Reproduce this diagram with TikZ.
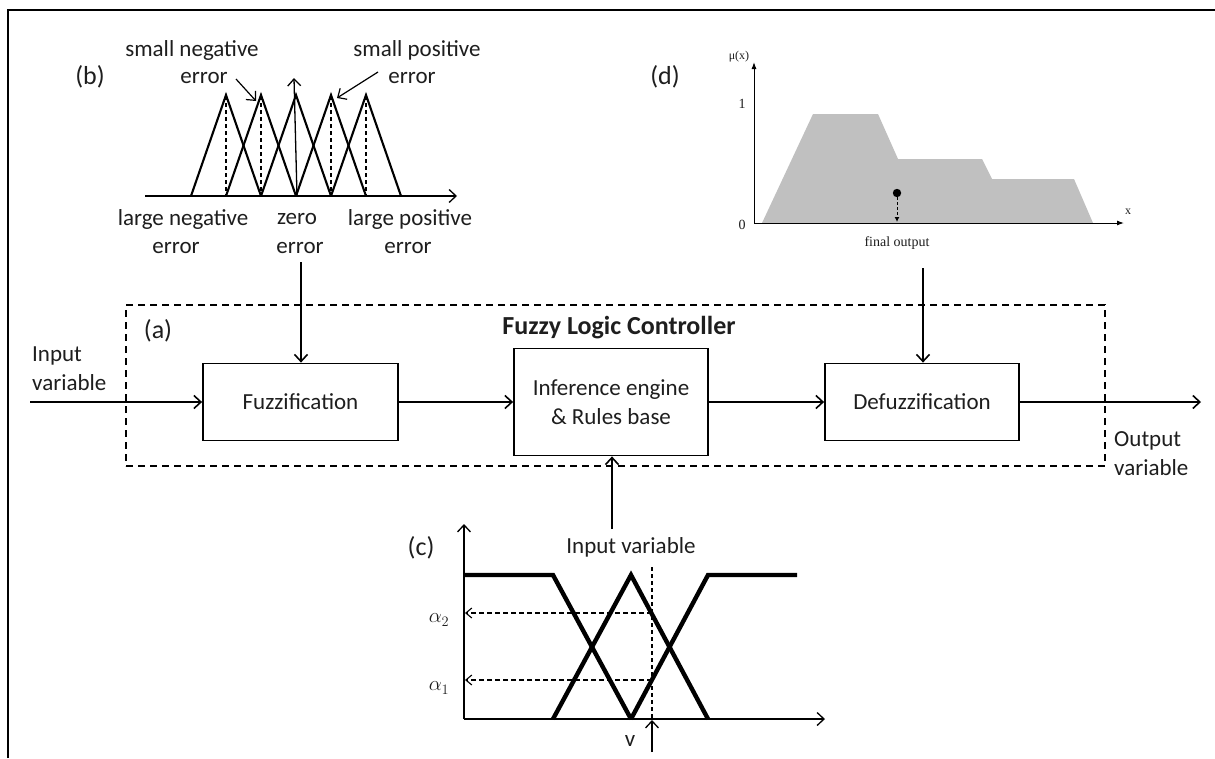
\documentclass[tikz,border=0pt]{standalone}
\usepackage{fontspec}
\setmainfont{Carlito}
\newfontfamily\serifft{Liberation Serif}
\usetikzlibrary{arrows.meta}
\newcommand\myfs{\fontsize{23}{29}\selectfont}
\newcommand\mysfs{\fontsize{14}{16}\selectfont\serifft}
\definecolor{shadegray}{RGB}{192,192,192}
\definecolor{ink}{RGB}{30,30,30}
\begin{document}
\begin{tikzpicture}[x=1pt,y=-1pt,
  every node/.style={text=ink},
  lab/.style={font=\myfs, inner sep=0, align=center},
  tag/.style={font=\fontsize{26}{30}\selectfont, inner sep=0},
  blk/.style={draw=black, line width=1.8, font=\myfs, align=center, inner sep=0},
  ar/.style={-{Straight Barb[length=7pt,width=13pt]}, line width=1.6},
  sar/.style={-{Straight Barb[length=6pt,width=10pt]}, line width=1.1},
  tri/.style={line width=2.1, line join=miter},
  thk/.style={line width=4.4},
  sl/.style={font=\mysfs, inner sep=0},
  fa/.style={-{Latex[length=7pt,width=5pt]}, line width=1}]
\useasboundingbox (0,0) rectangle (1215,758);
\fill[white] (0,0) rectangle (1215,758);
% outer frame
\draw[line width=2.6] (8,758) -- (8,10) -- (1215,10);

% (a) block diagram
\node[draw=black, dashed, line width=1.7, dash pattern=on 7pt off 5pt, minimum width=979, minimum height=161, inner sep=0] (flc) at (615.5,385.5) {};
\node[tag] (tag-a) at (158,331) {(a)};
\node[lab, font=\fontsize{26}{30}\selectfont\bfseries] (title) at (619,328) {Fuzzy Logic Controller};
\node[blk, minimum width=195, minimum height=77] (fuzz) at (300.5,402) {Fuzzification};
\node[blk, minimum width=194, minimum height=107] (inf) at (611,402) {Inference engine\\\& Rules base};
\node[blk, minimum width=194, minimum height=77] (defuzz) at (922,402) {Defuzzification};
\node[lab, align=left, anchor=west] (inlab) at (32,369) {Input\\variable};
\node[lab, align=left, anchor=west] (outlab) at (1114,454) {Output\\variable};
\coordinate (inS) at (30,402);
\coordinate (outE) at (1201,402);
\draw[ar] (inS) -- (fuzz);
\draw[ar] (fuzz) -- (inf);
\draw[ar] (inf) -- (defuzz);
\draw[ar] (defuzz) -- (outE);
\coordinate (bS) at (301,262);
\coordinate (dS) at (923,268);
\coordinate (cS) at (612,529);
\draw[ar] (bS) -- (bS |- fuzz.north);
\draw[ar] (dS) -- (dS |- defuzz.north);
\draw[ar] (cS) -- (cS |- inf.south);

% (b) membership triangles
\node[tag] (tag-b) at (90,77) {(b)};
\foreach \p in {226,261,296,331,366}{
  \draw[tri] (\p-35,196) -- (\p,95) -- (\p+35,196);
}
\foreach \p in {226,261,331,366}{
  \draw[dashed, line width=1.1, dash pattern=on 4pt off 3pt] (\p,96) -- (\p,196);
}
\draw[ar, line width=1.3] (297,196) -- (294,78);
\draw[ar, line width=1.3] (145,196) -- (457,196);
\node[lab] (sn1) at (192,50) {small negative};
\node[lab] (sn2) at (204,78) {error};
\node[lab] (sp1) at (417,50) {small positive};
\node[lab] (sp2) at (412,78) {error};
\draw[ar, line width=1.2] (236,79) -- (256,101);
\draw[ar, line width=1.2] (378,72) -- (337,98);
\node[lab] (ln1) at (183,219) {large negative};
\node[lab] (ln2) at (176,248) {error};
\node[lab] (z1) at (297,219) {zero};
\node[lab] (z2) at (300,248) {error};
\node[lab] (lp1) at (410,219) {large positive};
\node[lab] (lp2) at (408,248) {error};

% (d) defuzzification plot
\node[tag] (tag-d) at (665,77) {(d)};
\fill[shadegray] (762,223) -- (813,114) -- (878,114) -- (898,159) -- (982,159) -- (992,179) -- (1074,179) -- (1093,223) -- cycle;
\draw[fa] (754,223) -- (754,62);
\draw[fa] (754,223) -- (1124,223);
\node[sl] (mu) at (739,57) {\fontsize{12}{14}\selectfont μ(x)};
\node[sl] (one) at (742,104) {1};
\node[sl] (zero) at (742,225) {0};
\node[sl] (xl) at (1128,212) {\fontsize{12}{14}\selectfont x};
\fill (897,193) circle (4.2);
\draw[fa, dashed, dash pattern=on 3pt off 2pt, -{Latex[length=5pt,width=5pt]}] (897,197) -- (897,222);
\node[sl] (fo) at (897,243) {final output};

% (c) input membership
\node[tag] (tag-c) at (421,548) {(c)};
\node[lab] (civ) at (631,547) {Input variable};
\draw[ar, line width=1.3] (464,719) -- (464,524);
\draw[ar, line width=1.3] (464,719) -- (825,719);
\draw[thk] (464,575) -- (553,575) -- (631,719);
\draw[thk] (553,719) -- (631,575) -- (708,719);
\draw[thk] (631,719) -- (708,575) -- (797,575);
\draw[dashed, line width=1.1, dash pattern=on 4pt off 3pt] (652,567) -- (652,719);
\draw[sar, dashed, dash pattern=on 5pt off 3pt] (652,613) -- (465,613);
\draw[sar, dashed, dash pattern=on 5pt off 3pt] (652,680) -- (465,680);
\node[inner sep=0, font=\fontsize{22}{26}\selectfont] (a2) at (439,620) {$\alpha_2$};
\node[inner sep=0, font=\fontsize{22}{26}\selectfont] (a1) at (439,688) {$\alpha_1$};
\coordinate (vS) at (652,752);
\draw[ar, line width=1.3] (vS) -- (652,720);
\node[lab] (vl) at (630,741) {v};
\end{tikzpicture}
\end{document}
